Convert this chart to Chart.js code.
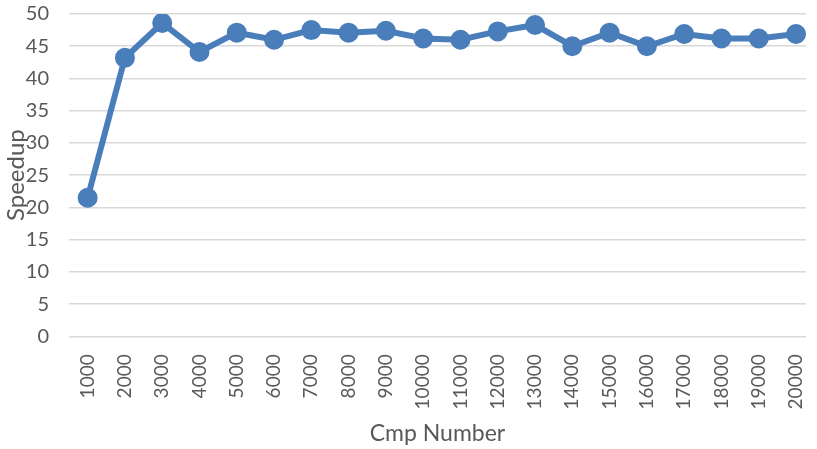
<!DOCTYPE html>
<html>
<head>
<meta charset="utf-8">
<script src="https://cdn.jsdelivr.net/npm/chart.js@4/dist/chart.umd.min.js"></script>
<style>
  html, body { margin: 0; padding: 0; background: #fff; overflow: hidden; }
  canvas { display: block; }
</style>
</head>
<body>
<!-- a little wider than the window: Chart.js keeps room on the right for the last rotated label -->
<canvas id="lineChart" width="829" height="449"></canvas>
<script>
// chart data
const cmpNumbers = [1000, 2000, 3000, 4000, 5000, 6000, 7000, 8000, 9000, 10000,
    11000, 12000, 13000, 14000, 15000, 16000, 17000, 18000, 19000, 20000];
const speedup = [21.5, 43.2, 48.6, 44.1, 47.1, 46.0, 47.5, 47.1, 47.4, 46.2,
    46.0, 47.3, 48.3, 45.0, 47.1, 45.0, 46.9, 46.2, 46.2, 46.9];
const yTicks = { min: 0, max: 50, step: 5 };
// the original plot is cut off at the right edge, a bit after 20000
const xRange = { min: 500, max: 20267 };

const textColor = "#595959";
const fontFamily = "Lato, 'Open Sans', sans-serif";

// y-axis title sits on top of the tick labels like in the original
const speedupTitle = {
    id: "speedupTitle",
    afterDraw(chart) {
        const ctx = chart.ctx;
        const yScale = chart.scales.y;
        ctx.save();
        ctx.translate(16, (yScale.top + yScale.bottom) / 2);
        ctx.rotate(-Math.PI / 2);
        ctx.fillStyle = textColor;
        ctx.font = "24px " + fontFamily;
        ctx.textAlign = "center";
        ctx.textBaseline = "middle";
        ctx.fillText("Speedup", 0, 0);
        ctx.restore();
    }
};

const points = cmpNumbers.map((n, i) => ({ x: n, y: speedup[i] }));

const ctx = document.getElementById("lineChart").getContext("2d");
new Chart(ctx, {
    type: "line",
    data: {
        datasets: [
            {
                label: "Speedup",
                data: points,
                borderColor: "#4a7ebb",
                backgroundColor: "#4a7ebb",
                borderWidth: 6,
                pointRadius: 7,
                pointHoverRadius: 7,
                tension: 0,
            },
        ],
    },
    options: {
        responsive: false,
        animation: false,
        layout: { padding: { top: 14, right: 0, bottom: 0, left: 0 } },
        plugins: {
            legend: { display: false },
            tooltip: { enabled: false },
        },
        scales: {
            x: {
                type: "linear",
                min: xRange.min,
                max: xRange.max,
                afterBuildTicks: (scale) => {
                    scale.ticks = cmpNumbers.map((v) => ({ value: v }));
                },
                grid: { display: false },
                border: { display: false },
                ticks: {
                    color: textColor,
                    font: { family: fontFamily, size: 19 },
                    minRotation: 90,
                    maxRotation: 90,
                    padding: 10,
                    autoSkip: false,
                    callback: (value) => String(value),
                },
                title: {
                    display: true,
                    text: "Cmp Number",
                    color: textColor,
                    font: { family: fontFamily, size: 23 },
                    padding: { top: 0, bottom: 2 },
                },
            },
            y: {
                min: yTicks.min,
                max: yTicks.max,
                afterFit: (scale) => {
                    scale.width = 69;
                    scale.paddingTop = 0;
                    scale.paddingBottom = 0;
                },
                grid: { color: "#d9d9d9", lineWidth: 1.5, drawTicks: false },
                border: { display: false },
                ticks: {
                    stepSize: yTicks.step,
                    color: textColor,
                    font: { family: fontFamily, size: 20 },
                    padding: 20,
                },
            },
        },
    },
    plugins: [speedupTitle],
});
</script>
</body>
</html>
